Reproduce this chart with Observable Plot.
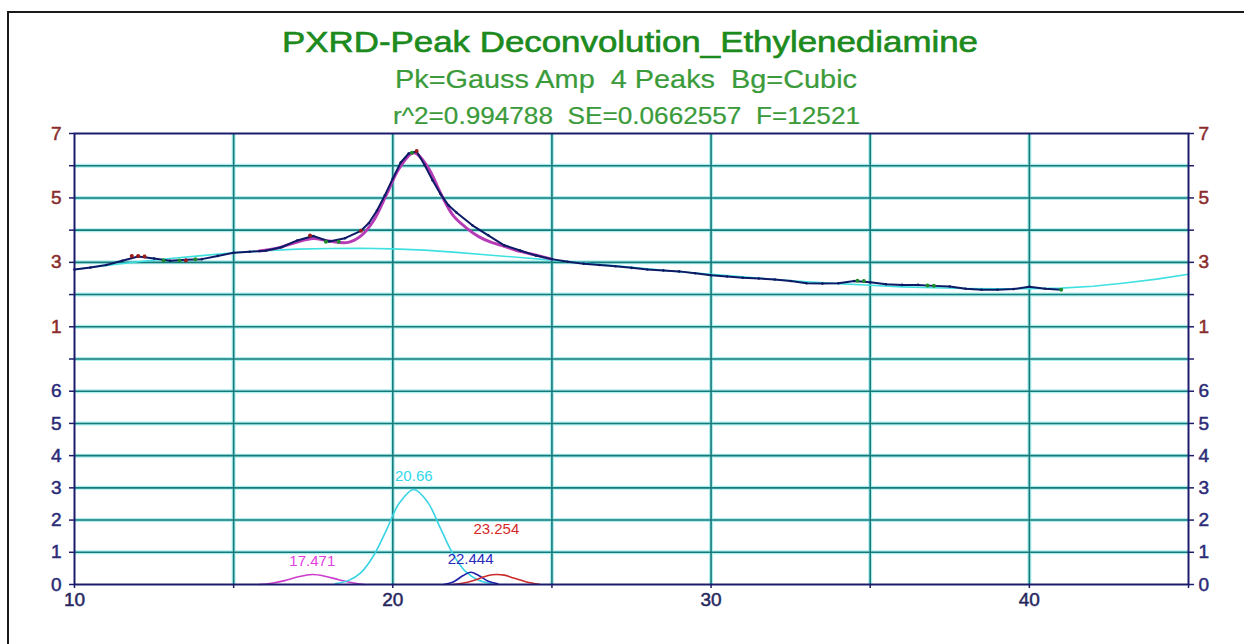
<!DOCTYPE html>
<html>
<head>
<meta charset="utf-8">
<script src="https://cdn.jsdelivr.net/npm/d3@7"></script>
<script src="https://cdn.jsdelivr.net/npm/@observablehq/plot@0.6"></script>
<style>
  html, body { margin: 0; padding: 0; background: #fff; overflow: hidden; }
  #wrap { position: relative; width: 1244px; height: 644px; overflow: hidden; }
  #border { position: absolute; left: 7px; top: 11px; width: 1300px; height: 700px; border: 2px solid #1a1a1a; box-sizing: border-box; pointer-events: none; }
  #titles { position: absolute; left: 0; top: 0; }
  #chart { position: absolute; left: 0; top: 0; }
  #titles text { white-space: pre; font-family: "Liberation Sans", Arial, sans-serif; }
</style>
</head>
<body>
<div id="wrap">
  <div id="chart"></div>
  <svg id="titles" width="1244" height="132"></svg>
  <div id="border"></div>
</div>
<script>
// ---------- Text ----------
const titleText = "PXRD-Peak Deconvolution_Ethylenediamine";
const subtitleText = "Pk=Gauss Amp  4 Peaks  Bg=Cubic";
const statsText = "r^2=0.994788  SE=0.0662557  F=12521";

// ---------- Axes ----------
const xLabeledTicks = [10, 20, 30, 40];
const xGridLines = [15, 20, 25, 30, 35, 40];
const xMinorTicks = [10, 15, 20, 25, 30, 35, 40, 45];
const upperTicks = [1, 3, 5, 7];          // upper panel (data + fit)
const lowerTicks = [0, 1, 2, 3, 4, 5, 6]; // lower panel (peaks)
const panelOffset = 7;                    // upper panel sits 7 units above lower

// ---------- Measured data (upper panel) ----------
const dataX = [10.0,10.5,11.0,11.5,12.0,12.5,13.0,13.5,14.0,14.5,15.0,15.5,16.0,16.5,17.0,17.5,18.0,18.5,19.0,19.25,19.5,19.75,20.0,20.25,20.5,20.75,21.0,21.25,21.5,21.75,22.0,22.5,23.0,23.5,24.0,24.5,25.0,25.5,26.0,26.5,27.0,27.5,28.0,28.5,29.0,29.5,30.0,30.5,31.0,31.5,32.0,32.5,33.0,33.5,34.0,34.5,35.0,35.5,36.0,36.5,37.0,37.5,38.0,38.5,39.0,39.5,40.0,40.5,41.0];
const dataY = [2.78,2.84,2.92,3.05,3.18,3.12,3.05,3.08,3.1,3.2,3.3,3.33,3.36,3.47,3.68,3.82,3.65,3.75,3.98,4.22,4.6,5.08,5.6,6.1,6.38,6.44,6.02,5.55,5.12,4.77,4.55,4.15,3.84,3.53,3.37,3.21,3.1,3.02,2.96,2.92,2.88,2.83,2.78,2.75,2.72,2.66,2.6,2.56,2.52,2.5,2.47,2.42,2.35,2.34,2.35,2.42,2.38,2.32,2.3,2.3,2.27,2.25,2.18,2.15,2.15,2.17,2.24,2.18,2.15];
// points drawn in the residual colours (green = below fit, red = above fit)
const greenX = [12.8,13.3,13.8,17.9,18.3,20.6,34.6,34.8,36.8,37.0,41.0];
const greenY = [3.06,3.06,3.1,3.64,3.64,6.4,2.43,2.42,2.28,2.27,2.15];
const redX = [11.8,12.0,12.2,13.5,17.4,19.0,20.75];
const redY = [3.2,3.2,3.18,3.06,3.83,3.98,6.46];

// ---------- Cubic background ----------
const baseX = [10,11,12,13,14,15,16,17,18,19,20,21,22,23,24,25,26,27,28,29,30,31,32,33,34,35,36,37,38,39,40,41,42,43,44,45];
const baseY = [2.78,2.9,3.02,3.12,3.21,3.3,3.36,3.41,3.43,3.44,3.42,3.38,3.31,3.23,3.15,3.07,2.98,2.89,2.8,2.71,2.63,2.55,2.47,2.4,2.34,2.29,2.24,2.21,2.19,2.18,2.18,2.2,2.26,2.36,2.48,2.63];

// ---------- Total fit ----------
const fitX = [15.8,16.4,17.0,17.5,18.0,18.6,19.0,19.4,19.8,20.2,20.66,21.1,21.5,21.9,22.3,22.7,23.1,23.5,24.0,24.6,25.0];
const fitY = [3.35,3.45,3.63,3.74,3.66,3.62,3.82,4.3,5.1,5.92,6.4,5.96,5.15,4.45,4.08,3.8,3.62,3.5,3.34,3.2,3.1];

// ---------- Peak components (lower panel) ----------
const peakLabels = ["17.471", "20.66", "22.444", "23.254"];
const peakCenters = [17.471, 20.66, 22.444, 23.254];
const peakLabelLevels = [0.71, 3.35, 0.78, 1.71];
const peak1X = [15.8,16.2,16.6,17.0,17.471,17.9,18.3,18.7,19.1];
const peak1Y = [0.0,0.04,0.12,0.23,0.31,0.25,0.15,0.06,0.0];
const peak2X = [18.2,18.6,19.0,19.4,19.8,20.2,20.66,21.1,21.5,21.9,22.3,22.7,23.1];
const peak2Y = [0.03,0.12,0.37,0.9,1.69,2.52,2.95,2.55,1.74,0.93,0.39,0.13,0.03];
const peak3X = [21.6,21.9,22.2,22.444,22.7,23.0,23.3];
const peak3Y = [0.0,0.08,0.27,0.38,0.28,0.1,0.02];
const peak4X = [21.9,22.3,22.7,23.0,23.254,23.5,23.8,24.2,24.6];
const peak4Y = [0.0,0.06,0.18,0.28,0.31,0.29,0.2,0.08,0.01];

const peakColors = ["#cc3ccc", "#38d4e4", "#1f1faa", "#cc2a2a"];
const peakTextColors = ["#e040e0", "#30d8ea", "#2a2abb", "#d42a2a"];

// ---------- Build ----------
const zip = (xs, ys) => xs.map((x, i) => ({x, y: ys[i]}));
const data = zip(dataX, dataY);
const greens = zip(greenX, greenY);
const reds = zip(redX, redY);
const base = zip(baseX, baseY);
const fit = zip(fitX, fitY);
const peaks = [zip(peak1X, peak1Y), zip(peak2X, peak2Y), zip(peak3X, peak3Y), zip(peak4X, peak4Y)];
const labels = peakLabels.map((t, i) => ({t, x: peakCenters[i], y: peakLabelLevels[i], c: peakTextColors[i]}));

const navy = "#1c1c6c";
const up = d => d.y + panelOffset;
const allY = d3.range(0, 15);
const gridY = d3.range(1, 14);

const chart = Plot.plot({
  width: 1244,
  height: 644,
  marginLeft: 74,
  marginRight: 56,
  marginTop: 133,
  marginBottom: 60,
  style: {fontFamily: "'Liberation Sans', Arial, sans-serif", background: "transparent"},
  x: {domain: [10, 45]},
  y: {domain: [0, 14]},
  marks: [
    Plot.ruleY(gridY, {stroke: "#aeeeee", strokeWidth: 4}),
    Plot.ruleX(xGridLines, {stroke: "#aeeeee", strokeWidth: 4}),
    Plot.ruleY(gridY, {stroke: "#16797a", strokeWidth: 1.6}),
    Plot.ruleX(xGridLines, {stroke: "#16797a", strokeWidth: 1.6}),
    Plot.line(base, {x: "x", y: up, stroke: "#3fe0e0", strokeWidth: 1.6}),
    Plot.line(fit, {x: "x", y: up, stroke: "#b63cb6", strokeWidth: 3, curve: "catmull-rom"}),
    Plot.line(data, {x: "x", y: up, stroke: "#0d1a66", strokeWidth: 2}),
    Plot.dot(data, {x: "x", y: up, r: 1.3, fill: "#0d1a66"}),
    Plot.dot(greens, {x: "x", y: up, r: 2, fill: "#1f8a2a"}),
    Plot.dot(reds, {x: "x", y: up, r: 2, fill: "#9a1a1a"}),
    ...peaks.map((p, i) => Plot.line(p, {x: "x", y: "y", stroke: peakColors[i], strokeWidth: 1.6, curve: "catmull-rom"})),
    Plot.text(labels, {x: "x", y: "y", text: "t", fill: "c", fontSize: 15, lineAnchor: "middle"}),
    Plot.frame({stroke: navy, strokeWidth: 2}),
    Plot.axisY(allY, {anchor: "left", tickSize: 5, tickFormat: () => "", stroke: navy, strokeWidth: 1.5, label: null}),
    Plot.axisY(allY, {anchor: "right", tickSize: 5, tickFormat: () => "", stroke: navy, strokeWidth: 1.5, label: null}),
    Plot.axisY(upperTicks.map(v => v + panelOffset), {anchor: "left", tickSize: 0, tickPadding: 13, tickFormat: d => String(d - panelOffset), fill: "#8a2c2c", fontSize: 19, label: null}),
    Plot.axisY(upperTicks.map(v => v + panelOffset), {anchor: "right", tickSize: 0, tickPadding: 10, tickFormat: d => String(d - panelOffset), fill: "#8a2c2c", fontSize: 19, label: null}),
    Plot.axisY(lowerTicks, {anchor: "left", tickSize: 0, tickPadding: 13, tickFormat: d => String(d), fill: "#2b2b78", fontSize: 19, label: null}),
    Plot.axisY(lowerTicks, {anchor: "right", tickSize: 0, tickPadding: 10, tickFormat: d => String(d), fill: "#2b2b78", fontSize: 19, label: null}),
    Plot.axisX(xMinorTicks, {anchor: "bottom", tickSize: 4, tickFormat: () => "", stroke: navy, strokeWidth: 1.5, label: null}),
    Plot.axisX(xLabeledTicks, {anchor: "bottom", tickSize: 0, tickPadding: 8, tickFormat: d => String(d), fill: "#27275f", fontSize: 19, label: null})
  ]
});
document.getElementById("chart").appendChild(chart);

// slightly heavier tick labels, like the reference rendering
d3.select(chart).selectAll('g[aria-label$="tick label"] text')
  .each(function() {
    const t = d3.select(this);
    const f = t.attr("fill") || d3.select(this.parentNode).attr("fill");
    t.attr("stroke", f).attr("stroke-width", 0.5);
  });

// ---------- Titles ----------
const tsvg = d3.select("#titles");
const titleLines = [
  {t: titleText, cx: 630, y: 52, size: 29, len: 696, fill: "#1c8a1c", sw: 0.6},
  {t: subtitleText, cx: 626, y: 88, size: 25, len: 462, fill: "#3b9b3b", sw: 0.2},
  {t: statsText, cx: 626.5, y: 124, size: 23, len: 467, fill: "#3b9b3b", sw: 0.2}
];
titleLines.forEach(l => {
  tsvg.append("text")
    .attr("x", l.cx).attr("y", l.y)
    .attr("text-anchor", "middle")
    .attr("font-size", l.size)
    .attr("fill", l.fill)
    .attr("stroke", l.fill)
    .attr("stroke-width", l.sw)
    .attr("textLength", l.len)
    .attr("lengthAdjust", "spacingAndGlyphs")
    .text(l.t);
});
</script>
</body>
</html>
